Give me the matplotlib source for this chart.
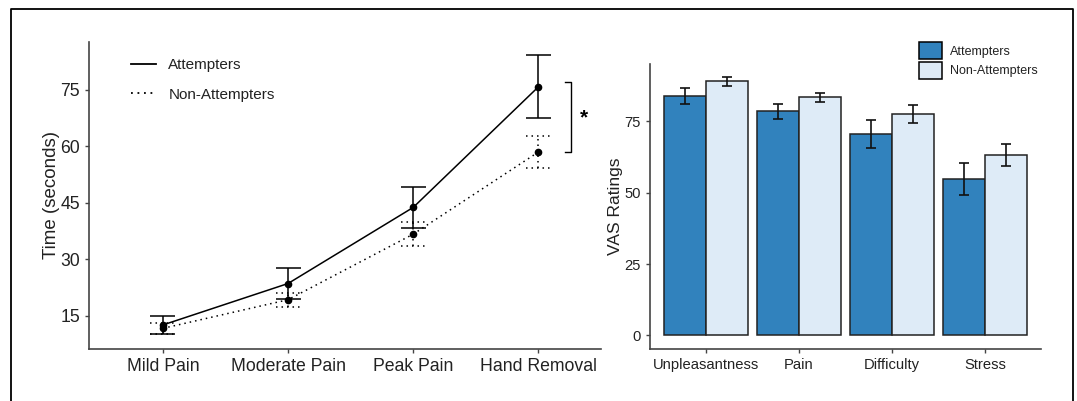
import numpy as np
import matplotlib
matplotlib.use('Agg')
import matplotlib.pyplot as plt
from matplotlib.lines import Line2D
from matplotlib.patches import Patch

plt.rcParams['font.family'] = 'Liberation Sans'

# Left panel: time to each pain stage
stages = ['Mild Pain', 'Moderate Pain', 'Peak Pain', 'Hand Removal']
att_time = [12.6, 23.6, 43.8, 75.8]
att_time_err = [2.4, 4.2, 5.4, 8.4]
non_time = [11.7, 19.3, 36.7, 58.5]
non_time_err = [1.4, 1.9, 3.1, 4.2]

# Right panel: VAS ratings
vas_items = ['Unpleasantness', 'Pain', 'Difficulty', 'Stress']
att_vas = [83.8, 78.4, 70.4, 54.8]
att_vas_err = [2.9, 2.7, 4.9, 5.6]
non_vas = [88.9, 83.3, 77.6, 63.1]
non_vas_err = [1.7, 1.7, 3.2, 3.9]

group_labels = ['Attempters', 'Non-Attempters']
dark_blue = '#3182BD'
light_blue = '#DEEBF7'
axis_col = '#444444'
text_col = '#222222'

W, H = 1077, 401
fig = plt.figure(figsize=(W / 100, H / 100), dpi=100)

# ---- left panel ----
ax1 = fig.add_axes([89 / W, 1 - 348.7 / H, (601 - 89) / W, (348.7 - 42) / H])
x = np.arange(len(stages))
dotted = (0, (1, 2.6))

ax1.plot(x, att_time, color='black', lw=1.1, marker='o', ms=4.5)
ax1.plot(x, non_time, color='black', lw=1.1, ls=dotted, marker='o', ms=4.5)

cap = 0.1
lo = np.array(att_time) - np.array(att_time_err)
hi = np.array(att_time) + np.array(att_time_err)
ax1.vlines(x, lo, hi, color='black', lw=1.1)
ax1.hlines(lo, x - cap, x + cap, color='black', lw=1.1)
ax1.hlines(hi, x - cap, x + cap, color='black', lw=1.1)

lo = np.array(non_time) - np.array(non_time_err)
hi = np.array(non_time) + np.array(non_time_err)
ax1.vlines(x, lo, hi, color='black', lw=1.1, linestyles=[dotted])
ax1.hlines(lo, x - cap, x + cap, color='black', lw=1.1, linestyles=[dotted])
ax1.hlines(hi, x - cap, x + cap, color='black', lw=1.1, linestyles=[dotted])

# significance bracket at hand removal
bx0, bx1 = 3.214, 3.258
ax1.plot([bx0, bx1, bx1, bx0], [att_time[3] + 1.4, att_time[3] + 1.4, non_time[3], non_time[3]],
         color='black', lw=1.0)
ax1.text(3.36, 67.5, '*', fontsize=15, ha='center', va='center', fontweight='bold', clip_on=False)

ax1.set_xlim(-0.59, 3.5)
ax1.set_ylim(6.3, 87.7)
ax1.set_xticks(x)
ax1.set_xticklabels(stages)
ax1.set_yticks([15, 30, 45, 60, 75])
ax1.set_ylabel('Time (seconds)', fontsize=13.5, color=text_col, labelpad=0)
ax1.tick_params(labelsize=12.7, colors=axis_col, labelcolor=text_col, length=3, width=1)
for s in ['top', 'right']:
    ax1.spines[s].set_visible(False)
for s in ['left', 'bottom']:
    ax1.spines[s].set_color(axis_col)
    ax1.spines[s].set_linewidth(1.2)

handles = [Line2D([], [], color='black', lw=1.3),
           Line2D([], [], color='black', lw=1.3, ls=dotted)]
fig.legend(handles, group_labels, loc='upper left', bbox_to_anchor=(131 / W, 1 - 58.5 / H),
           frameon=False, fontsize=11, borderpad=0, borderaxespad=0,
           handlelength=1.65, handletextpad=0.8, labelspacing=1.0, labelcolor=text_col)

# ---- right panel ----
ax2 = fig.add_axes([650 / W, 1 - 349 / H, (1041.3 - 650) / W, (349 - 64) / H])
xv = np.arange(len(vas_items))
bw = 0.45
ax2.bar(xv - bw / 2, att_vas, bw, color=dark_blue, edgecolor='#222222', lw=1.1)
ax2.bar(xv + bw / 2, non_vas, bw, color=light_blue, edgecolor='#222222', lw=1.1)
ax2.errorbar(xv - bw / 2, att_vas, yerr=att_vas_err, fmt='none', ecolor='#111111',
             elinewidth=1.2, capsize=3.5, capthick=1.2)
ax2.errorbar(xv + bw / 2, non_vas, yerr=non_vas_err, fmt='none', ecolor='#111111',
             elinewidth=1.2, capsize=3.5, capthick=1.2)

ax2.set_xlim(-0.6, 3.6)
ax2.set_ylim(-4.75, 95)
ax2.set_xticks(xv)
ax2.set_xticklabels(vas_items)
ax2.set_yticks([0, 25, 50, 75])
ax2.set_ylabel('VAS Ratings', fontsize=12.5, color=text_col, labelpad=1)
ax2.tick_params(labelsize=10.6, colors=axis_col, labelcolor=text_col, length=3, width=1)
for s in ['top', 'right']:
    ax2.spines[s].set_visible(False)
for s in ['left', 'bottom']:
    ax2.spines[s].set_color(axis_col)
    ax2.spines[s].set_linewidth(1.2)

patches = [Patch(facecolor=dark_blue, edgecolor='black', lw=1.1),
           Patch(facecolor=light_blue, edgecolor='black', lw=1.1)]
fig.legend(patches, group_labels, loc='upper left', bbox_to_anchor=(919 / W, 1 - 42 / H),
           frameon=False, fontsize=9, borderpad=0, borderaxespad=0,
           handlelength=1.8, handleheight=1.75, handletextpad=0.7, labelspacing=0.2,
           labelcolor=text_col)

# outer frame (open at the bottom)
fx0, fx1, fy = 11.3 / W, 1072.7 / W, 1 - 9.3 / H
fig.add_artist(Line2D([fx0, fx0, fx1, fx1], [0, fy, fy, 0], transform=fig.transFigure,
                      color='black', lw=1.3))

fig.savefig('out.png', dpi=100)
